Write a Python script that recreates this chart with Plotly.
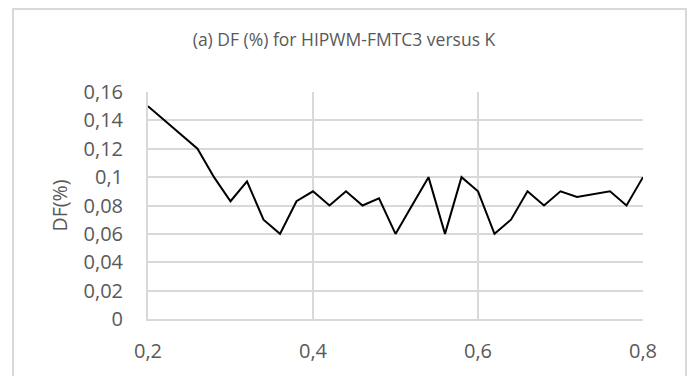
import plotly.graph_objects as go

k_values = [0.20, 0.22, 0.24, 0.26, 0.28, 0.30, 0.32, 0.34, 0.36, 0.38,
            0.40, 0.42, 0.44, 0.46, 0.48, 0.50, 0.52, 0.54, 0.56, 0.58,
            0.60, 0.62, 0.64, 0.66, 0.68, 0.70, 0.72, 0.74, 0.76, 0.78, 0.80]
df_values = [0.150, 0.140, 0.130, 0.120, 0.100, 0.083, 0.097, 0.070, 0.060, 0.083,
             0.090, 0.080, 0.090, 0.080, 0.085, 0.060, 0.080, 0.100, 0.060, 0.100,
             0.090, 0.060, 0.070, 0.090, 0.080, 0.090, 0.086, 0.088, 0.090, 0.080, 0.100]

x_tick_vals = [0.2, 0.4, 0.6, 0.8]
x_tick_text = ["0,2", "0,4", "0,6", "0,8"]
y_tick_vals = [0, 0.02, 0.04, 0.06, 0.08, 0.10, 0.12, 0.14, 0.16]
y_tick_text = ["0", "0,02", "0,04", "0,06", "0,08", "0,1", "0,12", "0,14", "0,16"]

title_text = "(a) DF (%) for HIPWM-FMTC3 versus K"
y_title = "DF(%)"

txt = "#595959"
grid = "#d9d9d9"
font_family = "Open Sans, Calibri, sans-serif"

fig = go.Figure()
fig.add_trace(go.Scatter(x=k_values, y=df_values, mode="lines",
                         line=dict(color="black", width=2), showlegend=False,
                         hoverinfo="skip"))

fig.update_layout(
    width=694, height=376,
    margin=dict(l=148, r=51, t=92, b=54),
    paper_bgcolor="white", plot_bgcolor="white",
    font=dict(family=font_family, color=txt, size=20),
    title=dict(text=title_text, x=344 / 694, xref="container", xanchor="center",
               y=1 - 40 / 376, yref="container", yanchor="middle",
               font=dict(size=17.5, color=txt, family=font_family)),
    xaxis=dict(range=[0.2, 0.8], tickvals=x_tick_vals, ticktext=x_tick_text,
               showgrid=True, gridcolor=grid, gridwidth=2,
               showline=True, linecolor=grid, linewidth=2,
               zeroline=False, ticks="", ticklabelstandoff=13,
               tickfont=dict(size=20, color=txt)),
    yaxis=dict(range=[0, 0.16], tickvals=y_tick_vals, ticktext=y_tick_text,
               showgrid=True, gridcolor=grid, gridwidth=2,
               showline=True, linecolor=grid, linewidth=2, mirror=False,
               zeroline=False, ticks="", ticklabelstandoff=19,
               tickfont=dict(size=20, color=txt),
               title=dict(text=y_title, standoff=11,
                          font=dict(size=19.5, color=txt))),
)

# outer chart border (Excel-style chart area frame)
fig.add_shape(type="rect", xref="paper", yref="paper",
              x0=(13 - 148) / 495, x1=(686 - 148) / 495,
              y0=(322 - 400) / 230, y1=(322 - 8) / 230,
              line=dict(color=grid, width=2), fillcolor="rgba(0,0,0,0)",
              layer="below")

fig.write_html("out.html")
